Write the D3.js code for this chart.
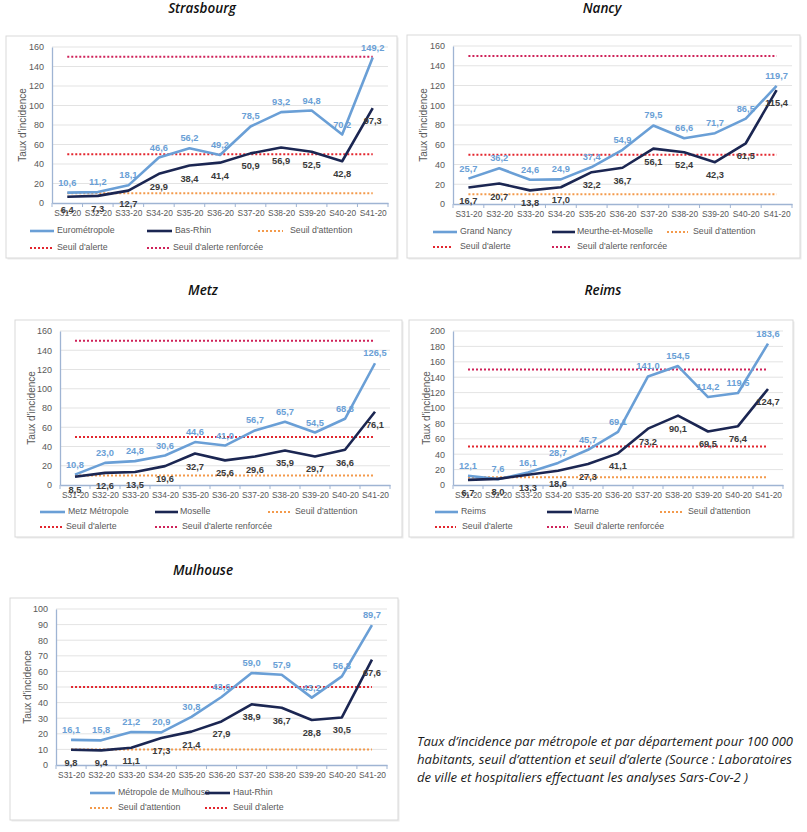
<!DOCTYPE html>
<html><head><meta charset="utf-8">
<script src="https://cdn.jsdelivr.net/npm/d3@7"></script>
<style>body{margin:0;background:#fff}</style>
</head><body>
<svg id="c" width="807" height="832"></svg>
<script>
// ---------- DATA ----------
const categories = ["S31-20","S32-20","S33-20","S34-20","S35-20","S36-20","S37-20","S38-20","S39-20","S40-20","S41-20"];

const strasbourgMetro = [10.6, 11.2, 18.1, 46.6, 56.2, 49.2, 78.5, 93.2, 94.8, 70.2, 149.2];
const strasbourgDept  = [6.4, 7.3, 12.7, 29.9, 38.4, 41.4, 50.9, 56.9, 52.5, 42.8, 97.3];

const nancyMetro = [25.7, 36.2, 24.6, 24.9, 37.4, 54.9, 79.5, 66.6, 71.7, 86.5, 119.7];
const nancyDept  = [16.7, 20.7, 13.8, 17.0, 32.2, 36.7, 56.1, 52.4, 42.3, 61.5, 115.4];

const metzMetro = [10.8, 23.0, 24.8, 30.6, 44.6, 41.0, 56.7, 65.7, 54.5, 68.8, 126.5];
const metzDept  = [8.5, 12.6, 13.5, 19.6, 32.7, 25.6, 29.6, 35.9, 29.7, 36.6, 76.1];

const reimsMetro = [12.1, 7.6, 16.1, 28.7, 45.7, 69.1, 141.0, 154.5, 114.2, 119.5, 183.6];
const reimsDept  = [6.7, 8.0, 13.3, 18.6, 27.3, 41.1, 73.2, 90.1, 69.5, 76.4, 124.7];

const mulhouseMetro = [16.1, 15.8, 21.2, 20.9, 30.8, 43.6, 59.0, 57.9, 43.2, 56.8, 89.7];
const mulhouseDept  = [9.8, 9.4, 11.1, 17.3, 21.4, 27.9, 38.9, 36.7, 28.8, 30.5, 67.6];

const seuilAttention = 10;
const seuilAlerte = 50;
const seuilRenforce = 150;

const titles = ["Strasbourg", "Nancy", "Metz", "Reims", "Mulhouse"];
const metroNames = ["Eurométropole", "Grand Nancy", "Metz Métropole", "Reims", "Métropole de Mulhouse"];
const deptNames = ["Bas-Rhin", "Meurthe-et-Moselle", "Moselle", "Marne", "Haut-Rhin"];
const yMaxes = [160, 160, 160, 200, 100];
const ySteps = [20, 20, 20, 20, 10];
const captionLines = [
  "Taux d’incidence par métropole et par département pour 100 000",
  "habitants, seuil d’attention et seuil d’alerte (Source : Laboratoires",
  "de ville et hospitaliers effectuant les analyses Sars-Cov-2 )"
];

// ---------- STYLE ----------
const C = {
  metro: "#6a9fd6", dept: "#1b2652",
  att: "#f39a4c", alerte: "#e3262e", renf: "#cf2259",
  grid: "#dcdcdc", axis: "#9fb4d3", text: "#595959",
  metroLbl: "#6a9fd6", deptLbl: "#3a3a3a"
};
const fmt = v => d3.format(".1f")(v).replace(".", ",");

// ---------- LAYOUT ----------
const panels = [
  { frame:[6,36,391,222], plot:[52,388,47,203], title:[202,13], ytx:23,
    rows:[231,248], cols1:[[30,54,57],[147,172,175],[258,283,290]], cols2:[[30,52,57],[147,170,173]] },
  { frame:[407,35,393,223], plot:[453,792,46,204], title:[602,13], ytx:424,
    rows:[232,247], cols1:[[433,457,460],[552,575,577],[667,688,693]], cols2:[[433,452,460],[552,572,577]] },
  { frame:[15,320,387,217], plot:[60,390,331,485], title:[203,295], ytx:32,
    rows:[512,527], cols1:[[40,65,68],[155,178,180],[268,291,295]], cols2:[[40,62,66],[155,177,182]] },
  { frame:[409,320,384,217], plot:[453,783,331,485], title:[603,295], ytx:427,
    rows:[512,527], cols1:[[435,458,461],[547,572,574],[660,683,688]], cols2:[[435,456,462],[547,568,574]] },
  { frame:[10,598,388,222], plot:[56,387,609,765], title:[203,575], ytx:28,
    rows:[793,808], cols1:[[90,115,118],[205,230,233]], cols2:[[90,112,118],[205,228,233]] }
];
const metroData = [strasbourgMetro, nancyMetro, metzMetro, reimsMetro, mulhouseMetro];
const deptData = [strasbourgDept, nancyDept, metzDept, reimsDept, mulhouseDept];

const svg = d3.select("#c");

function drawPanel(i) {
  const p = panels[i];
  const g = svg.append("g");
  const [fx, fy, fw, fh] = p.frame;
  g.append("rect").attr("x", fx + 1.5).attr("y", fy + 1.5).attr("width", fw).attr("height", fh)
    .attr("fill", "#ececec");
  g.append("rect").attr("x", fx).attr("y", fy).attr("width", fw).attr("height", fh)
    .attr("fill", "#fff").attr("stroke", "#d9d9d9").attr("stroke-width", 1);

  g.append("text").attr("x", p.title[0]).attr("y", p.title[1])
    .attr("text-anchor", "middle").attr("font-family", "Open Sans").attr("font-style", "italic")
    .attr("font-weight", 600).attr("font-size", 13.5).attr("fill", "#111").text(titles[i]);

  const [x0, x1, yTop, yBot] = p.plot;
  const x = d3.scalePoint().domain(categories).range([x0, x1]).padding(0.5);
  const y = d3.scaleLinear().domain([0, yMaxes[i]]).range([yBot, yTop]);
  const ticks = d3.range(0, yMaxes[i] + ySteps[i] / 2, ySteps[i]);

  // grid
  g.append("g").selectAll("line").data(ticks.slice(1)).join("line")
    .attr("x1", x0).attr("x2", x1).attr("y1", d => y(d)).attr("y2", d => y(d))
    .attr("stroke", C.grid).attr("stroke-width", 0.8);

  // y axis
  const ya = g.append("g").attr("transform", `translate(${x0},0)`)
    .call(d3.axisLeft(y).tickValues(ticks).tickSize(0).tickPadding(8).tickFormat(d3.format("d")));
  ya.select(".domain").attr("stroke", C.axis).attr("stroke-width", 1.3);
  ya.selectAll("text").attr("font-family", "Liberation Sans").attr("font-size", 9).attr("fill", C.text);

  // x axis
  const xa = g.append("g").attr("transform", `translate(0,${yBot})`)
    .call(d3.axisBottom(x).tickSize(0).tickPadding(7));
  xa.select(".domain").attr("stroke", C.axis).attr("stroke-width", 1.3);
  xa.selectAll("text").attr("font-family", "Liberation Sans").attr("font-size", 8.4).attr("fill", C.text);
  const st = x.step();
  const bounds = d3.range(categories.length + 1).map(k => x(categories[0]) - st / 2 + k * st);
  g.append("g").selectAll("line").data(bounds).join("line")
    .attr("x1", d => d).attr("x2", d => d).attr("y1", yBot).attr("y2", yBot + 4)
    .attr("stroke", C.axis).attr("stroke-width", 1);

  // y title
  g.append("text").attr("transform", `translate(${p.ytx},${(yTop + yBot) / 2}) rotate(-90)`)
    .attr("text-anchor", "middle").attr("dominant-baseline", "middle")
    .attr("font-family", "Liberation Sans").attr("font-size", 10).attr("fill", C.text)
    .text("Taux d'incidence");

  // thresholds
  const thr = [[seuilAttention, C.att]];
  thr.push([seuilAlerte, C.alerte]);
  if (i !== 4) thr.push([seuilRenforce, C.renf]);
  const tline = d3.line().x(d => x(d[0])).y(d => y(d[1]));
  thr.forEach(([v, col]) => {
    g.append("path").datum(categories.map(c => [c, v])).attr("d", tline)
      .attr("fill", "none").attr("stroke", col).attr("stroke-width", 2).attr("stroke-dasharray", "2,2");
  });

  // series
  const line = d3.line().x((d, k) => x(categories[k])).y(d => y(d));
  g.append("path").datum(metroData[i]).attr("d", line).attr("fill", "none")
    .attr("stroke", C.metro).attr("stroke-width", 2.6).attr("stroke-linejoin", "round");
  g.append("path").datum(deptData[i]).attr("d", line).attr("fill", "none")
    .attr("stroke", C.dept).attr("stroke-width", 2.6).attr("stroke-linejoin", "round");

  // labels
  g.append("g").selectAll("text").data(metroData[i]).join("text")
    .attr("x", (d, k) => x(categories[k])).attr("y", d => y(d) - 7)
    .attr("text-anchor", "middle").attr("font-family", "Liberation Sans").attr("font-size", 9.3)
    .attr("font-weight", "bold").attr("fill", C.metroLbl).text(fmt);
  g.append("g").selectAll("text").data(deptData[i]).join("text")
    .attr("x", (d, k) => x(categories[k])).attr("y", d => y(d) + 16)
    .attr("text-anchor", "middle").attr("font-family", "Liberation Sans").attr("font-size", 9.3)
    .attr("font-weight", "bold").attr("fill", C.deptLbl).text(fmt);

  // legend
  const legItems1 = [[metroNames[i], C.metro, false], [deptNames[i], C.dept, false]];
  const legItems2 = [];
  if (i !== 4) {
    legItems1.push(["Seuil d'attention", C.att, true]);
    legItems2.push(["Seuil d'alerte", C.alerte, true], ["Seuil d'alerte renforcée", C.renf, true]);
  } else {
    legItems2.push(["Seuil d'attention", C.att, true], ["Seuil d'alerte", C.alerte, true]);
  }
  const drawLeg = (items, cols, yy) => items.forEach((it, k) => {
    const [a, b, t] = cols[k];
    g.append("line").attr("x1", a).attr("x2", b).attr("y1", yy).attr("y2", yy)
      .attr("stroke", it[1]).attr("stroke-width", it[2] ? 2 : 2.6)
      .attr("stroke-dasharray", it[2] ? "2,2" : null);
    g.append("text").attr("x", t).attr("y", yy).attr("dominant-baseline", "middle")
      .attr("font-family", "Liberation Sans").attr("font-size", 8.8).attr("fill", C.text).text(it[0]);
  });
  drawLeg(legItems1, p.cols1, p.rows[0]);
  drawLeg(legItems2, p.cols2, p.rows[1]);
}

d3.range(5).forEach(drawPanel);

// caption
const capW = [376, 375, 331];
svg.append("g").selectAll("text").data(captionLines).join("text")
  .attr("x", 417).attr("y", (d, k) => 746 + k * 18)
  .attr("font-family", "Open Sans").attr("font-style", "italic").attr("font-size", 12.5)
  .attr("fill", "#1a1a1a")
  .attr("textLength", (d, k) => capW[k]).attr("lengthAdjust", "spacingAndGlyphs")
  .text(d => d);
</script>
</body></html>
